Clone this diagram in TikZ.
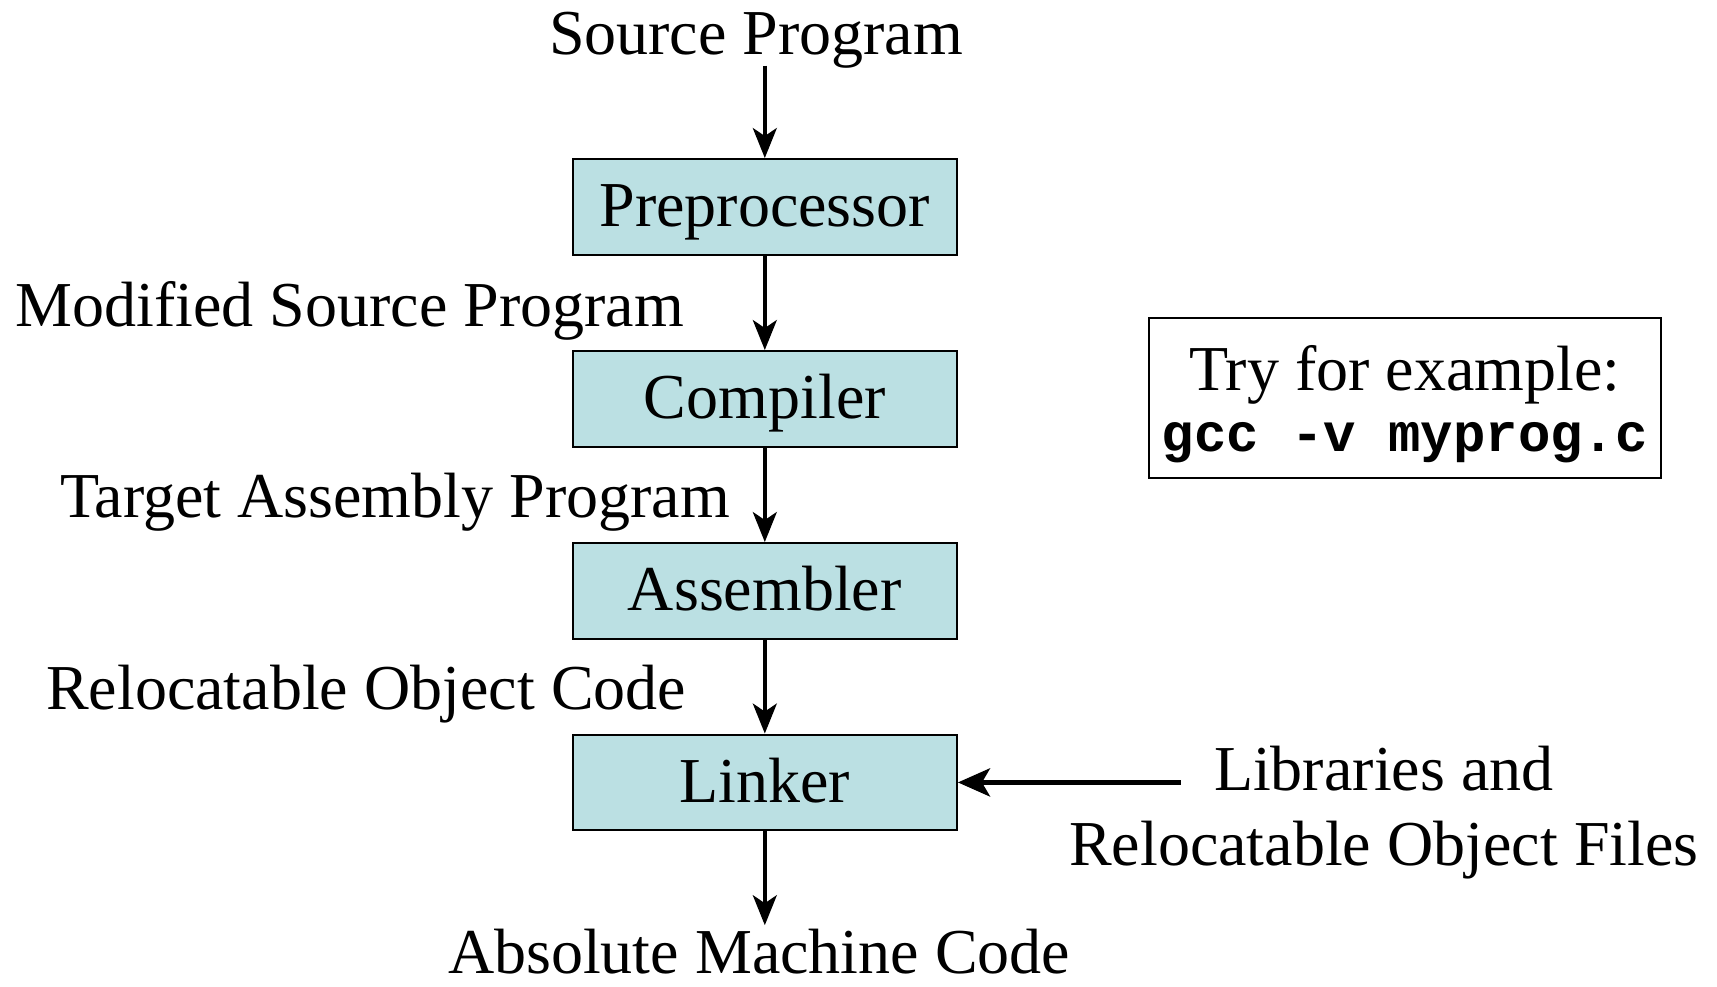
\documentclass[tikz,border=0pt]{standalone}
\usepackage{fontspec}
\setmainfont{Liberation Serif}
\setmonofont{Liberation Mono}
\usetikzlibrary{arrows.meta}
\definecolor{boxfill}{HTML}{BBE0E3}
\tikzset{
  stage/.style={draw=black, line width=1.1pt, fill=boxfill, minimum width=192pt, minimum height=47.8pt, inner sep=0pt, text height=24pt, text depth=4pt, font=\fontsize{32}{36}\selectfont},
  lbl/.style={inner sep=0pt, font=\fontsize{32}{36}\selectfont},
  flow/.style={line width=1.7pt, -{Stealth[length=15pt,width=12pt,inset=4pt]}},
  bigflow/.style={line width=2.6pt, -{Stealth[length=16pt,width=14pt,inset=4pt]}},
}
\begin{document}
\begin{tikzpicture}[x=0.5pt,y=-0.5pt]
\useasboundingbox (0,0) rectangle (1717,986);
\fill[white] (0,0) rectangle (1717,986);
\begin{scope}[x=0.4974pt,y=-0.4974pt]
\node[stage] (pre) at (768.8,208) {Preprocessor};
\node[stage] (comp) at (768.8,401) {Compiler};
\node[stage] (asm) at (768.8,594) {Assembler};
\node[stage] (link) at (768.8,786.5) {Linker};
\node[lbl, anchor=base] (src) at (760,55) {Source Program};
\coordinate (srcend) at (768.8,66);
\node[lbl, anchor=base east] (mod) at (688,328) {Modified Source Program};
\node[lbl, anchor=base east] (tgt) at (734,520) {Target Assembly Program};
\node[lbl, anchor=base east] (rel) at (690,713) {Relocatable Object Code};
\node[lbl, anchor=base] (abs) at (763,979) {Absolute Machine Code};
\coordinate (absend) at (768.8,930);
\node[draw=black, line width=1pt, minimum width=256pt, minimum height=80pt, inner sep=0pt] (try) at (1412,400.5) {};
\node[lbl, anchor=base] (trytxt) at (1412,393) {Try for example:};
\node[inner sep=0pt, anchor=base, font=\fontsize{27}{32}\selectfont\ttfamily\bfseries] (gcc) at (1412,454) {gcc -v myprog.c};
\node[lbl, anchor=base] (lib1) at (1391,795) {Libraries and};
\node[lbl, anchor=base] (lib2) at (1391,870) {Relocatable Object Files};
\coordinate (libstart) at (1187,786.5);
\draw[flow] (srcend) -- (pre.north);
\draw[flow] (pre.south) -- (comp.north);
\draw[flow] (comp.south) -- (asm.north);
\draw[flow] (asm.south) -- (link.north);
\draw[flow] (link.south) -- (absend);
\draw[bigflow] (libstart) -- (link.east);
\end{scope}
\end{tikzpicture}
\end{document}
